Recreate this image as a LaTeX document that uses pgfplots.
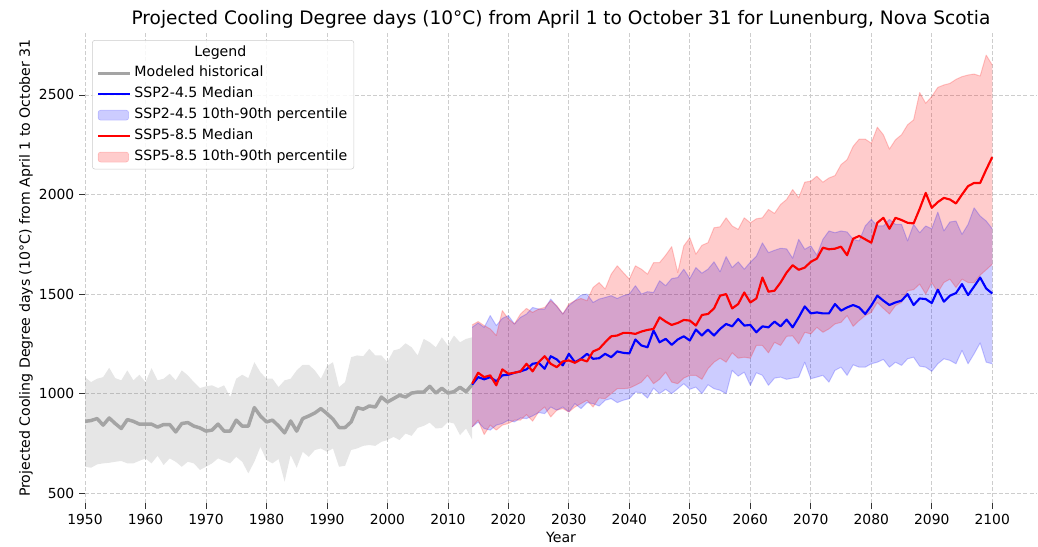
\documentclass[border=0pt]{standalone}
\usepackage{fontspec}
\setmainfont{DejaVu Sans}
\usepackage{pgfplots}
\pgfplotsset{compat=1.18}
\usepackage{pgfplotstable}
\usepgfplotslibrary{fillbetween}

\definecolor{histgray}{RGB}{164,164,164}
\definecolor{gridgray}{RGB}{205,205,205}

\pgfplotstableread{
year med lo hi
1950 861 633 1083
1951 865 628 1058
1952 875 645 1075
1953 842 650 1083
1954 878 653 1130
1955 850 658 1078
1956 825 662 1067
1957 870 650 1117
1958 861 650 1067
1959 847 663 1095
1960 847 675 1058
1961 847 650 1128
1962 832 688 1067
1963 845 642 1075
1964 845 675 1100
1965 808 658 1067
1966 850 633 1117
1967 855 658 1092
1968 837 650 1058
1969 828 617 1028
1970 812 633 1037
1971 817 650 1042
1972 847 675 1028
1973 812 662 1042
1974 812 650 983
1975 867 683 1075
1976 837 658 1095
1977 837 600 1078
1978 930 658 1158
1979 888 733 1108
1980 858 667 1075
1981 867 650 1075
1982 838 672 1033
1983 803 558 1067
1984 863 692 1075
1985 812 628 1117
1986 875 708 1145
1987 888 683 1145
1988 903 717 1117
1989 925 725 1075
1990 900 708 1138
1991 872 725 1158
1992 830 633 1033
1993 830 638 1058
1994 858 717 1183
1995 930 725 1192
1996 922 738 1188
1997 938 742 1225
1998 933 738 1192
1999 983 758 1192
2000 958 767 1158
2001 975 783 1217
2002 992 767 1225
2003 983 800 1253
2004 1003 788 1233
2005 1008 828 1192
2006 1008 838 1275
2007 1037 855 1258
2008 1003 825 1233
2009 1027 828 1283
2010 1003 858 1242
2011 1010 850 1292
2012 1032 792 1258
2013 1010 825 1275
2014 1045 770 1283
}\hist

\pgfplotstableread{
year med lo hi
2014 1045 833 1333
2015 1083 858 1355
2016 1072 825 1333
2017 1083 817 1392
2018 1062 842 1342
2019 1092 850 1378
2020 1095 867 1392
2021 1105 858 1350
2022 1112 878 1383
2023 1122 875 1400
2024 1150 888 1433
2025 1155 905 1425
2026 1125 900 1425
2027 1188 933 1475
2028 1172 917 1438
2029 1142 933 1400
2030 1200 908 1442
2031 1158 950 1467
2032 1175 925 1495
2033 1200 955 1500
2034 1175 950 1458
2035 1178 938 1475
2036 1200 967 1483
2037 1183 975 1492
2038 1212 955 1478
2039 1205 967 1492
2040 1202 975 1500
2041 1272 1008 1542
2042 1242 1005 1500
2043 1233 978 1512
2044 1317 1028 1508
2045 1258 1000 1567
2046 1275 1022 1542
2047 1245 1000 1578
2048 1272 1025 1583
2049 1288 1050 1625
2050 1267 1022 1578
2051 1322 1033 1633
2052 1292 1000 1605
2053 1322 1045 1625
2054 1292 1025 1662
2055 1325 1017 1612
2056 1350 1000 1688
2057 1338 1117 1633
2058 1375 1088 1662
2059 1342 1108 1625
2060 1345 1042 1660
2061 1308 1105 1690
2062 1338 1092 1757
2063 1333 1042 1708
2064 1362 1078 1720
2065 1338 1083 1730
2066 1372 1072 1727
2067 1333 1078 1680
2068 1383 1083 1775
2069 1438 1158 1725
2070 1403 1075 1742
2071 1408 1083 1695
2072 1403 1092 1775
2073 1403 1058 1817
2074 1450 1117 1808
2075 1417 1133 1817
2076 1433 1092 1812
2077 1445 1145 1775
2078 1433 1133 1767
2079 1400 1133 1842
2080 1442 1150 1875
2081 1492 1158 1842
2082 1467 1172 1842
2083 1445 1133 1875
2084 1458 1158 1850
2085 1467 1142 1850
2086 1500 1175 1767
2087 1445 1183 1850
2088 1478 1138 1808
2089 1475 1133 1842
2090 1455 1112 1828
2091 1522 1150 1912
2092 1462 1175 1817
2093 1492 1167 1862
2094 1505 1150 1867
2095 1550 1217 1800
2096 1495 1150 1850
2097 1538 1200 1933
2098 1583 1255 1892
2099 1528 1158 1867
2100 1503 1150 1828
}\ssptwo

\pgfplotstableread{
year med lo hi
2014 1050 833 1345
2015 1105 867 1362
2016 1083 795 1342
2017 1092 842 1325
2018 1042 817 1292
2019 1122 842 1417
2020 1100 850 1375
2021 1105 867 1350
2022 1112 867 1400
2023 1150 895 1428
2024 1112 862 1408
2025 1158 908 1425
2026 1188 933 1433
2027 1150 883 1467
2028 1133 917 1442
2029 1162 925 1400
2030 1167 908 1450
2031 1155 933 1467
2032 1172 950 1478
2033 1162 967 1467
2034 1212 933 1533
2035 1225 978 1558
2036 1258 975 1525
2037 1288 1000 1600
2038 1292 1025 1642
2039 1305 1025 1608
2040 1305 1028 1575
2041 1300 1042 1642
2042 1312 1058 1625
2043 1320 1092 1600
2044 1325 1050 1658
2045 1383 1072 1658
2046 1362 1108 1695
2047 1345 1058 1738
2048 1355 1050 1608
2049 1370 1078 1742
2050 1367 1092 1783
2051 1342 1092 1700
2052 1395 1072 1745
2053 1400 1125 1758
2054 1428 1158 1833
2055 1492 1178 1838
2056 1500 1158 1883
2057 1428 1205 1842
2058 1450 1178 1825
2059 1508 1183 1883
2060 1458 1178 1858
2061 1478 1242 1878
2062 1583 1242 1883
2063 1512 1205 1925
2064 1517 1258 1905
2065 1558 1242 1950
2066 1608 1288 1975
2067 1645 1290 2025
2068 1622 1250 1983
2069 1633 1308 2062
2070 1662 1300 2067
2071 1678 1333 2092
2072 1733 1308 2062
2073 1725 1325 2083
2074 1728 1350 2095
2075 1738 1358 2150
2076 1695 1392 2175
2077 1778 1338 2242
2078 1792 1367 2278
2079 1775 1392 2278
2080 1758 1408 2258
2081 1858 1458 2338
2082 1883 1428 2300
2083 1828 1400 2228
2084 1883 1442 2275
2085 1872 1458 2300
2086 1858 1517 2350
2087 1855 1522 2375
2088 1928 1550 2512
2089 2008 1500 2458
2090 1933 1558 2492
2091 1962 1508 2538
2092 1983 1558 2550
2093 1975 1575 2558
2094 1955 1533 2578
2095 2000 1575 2592
2096 2042 1558 2600
2097 2058 1558 2605
2098 2058 1595 2595
2099 2125 1622 2700
2100 2188 1650 2650
}\sspfive

\pgfplotsset{
  mylineleg/.style={legend image code/.code={\draw[##1] (0pt,0pt) -- (24pt,0pt);}},
  myarealeg/.style={legend image code/.code={\draw[##1] (0pt,-3.75pt) rectangle (23pt,3.75pt);}},
}

\begin{document}
\begin{tikzpicture}
\begin{axis}[
  scale only axis,
  width=714pt, height=352.5pt,
  xmin=1950, xmax=2107.4,
  ymin=451, ymax=2811,
  xtick={1950,1960,...,2100},
  ytick={500,1000,...,2500},
  /pgf/number format/1000 sep={},
  /pgf/number format/assume math mode=true,
  axis line style={draw=none},
  tick align=outside,
  xtick pos=bottom, ytick pos=left,
  major tick length=4.5pt,
  tick style={black!80, line width=0.6pt},
  tick label style={font=\fontsize{10.4}{12}\selectfont},
  xticklabel style={yshift=-0.5pt},
  grid=major,
  major grid style={gridgray, dash pattern=on 3pt off 1.6pt, line width=0.6pt},
  label style={font=\fontsize{10.6}{12}\selectfont},
  xlabel={Year},
  xlabel style={at={(axis description cs:0.5,-0.0735)}, anchor=center},
  ylabel={Projected Cooling Degree days (10°C) from April 1 to October 31},
  ylabel style={at={(axis description cs:-0.062,0.5)}, anchor=center},
  title={Projected Cooling Degree days (10°C) from April 1 to October 31 for Lunenburg, Nova Scotia},
  title style={at={(axis description cs:0.5,1)}, anchor=base, yshift=0pt, font=\fontsize{13.9}{16}\selectfont},
  legend cell align=left,
  legend style={at={(axis description cs:0.0074,0.985)}, anchor=north west,
    font=\fontsize{10.6}{12}\selectfont,
    draw=black!20, fill=white, fill opacity=0.85, text opacity=1,
    rounded corners=2pt, row sep=1.6pt, inner xsep=3pt, inner ysep=2pt,
    nodes={text height=7.8pt, text depth=2.3pt, inner sep=2pt}},
  line join=round,
]
% historical band and median
\addplot[name path=hhi, draw=none, forget plot] table[x=year,y=hi]{\hist};
\addplot[name path=hlo, draw=none, forget plot] table[x=year,y=lo]{\hist};
\addplot[fill=gray, fill opacity=0.2, draw=none, forget plot] fill between[of=hhi and hlo];
\addplot[histgray, line width=2.6pt, forget plot] table[x=year,y=med]{\hist};
% SSP2-4.5 band
\addplot[name path=bhi, blue, draw opacity=0.2, line width=0.75pt, forget plot] table[x=year,y=hi]{\ssptwo};
\addplot[name path=blo, blue, draw opacity=0.2, line width=0.75pt, forget plot] table[x=year,y=lo]{\ssptwo};
\addplot[fill=blue, fill opacity=0.2, draw=none, forget plot] fill between[of=bhi and blo];
% SSP5-8.5 band
\addplot[name path=rhi, red, draw opacity=0.2, line width=0.75pt, forget plot] table[x=year,y=hi]{\sspfive};
\addplot[name path=rlo, red, draw opacity=0.2, line width=0.75pt, forget plot] table[x=year,y=lo]{\sspfive};
\addplot[fill=red, fill opacity=0.2, draw=none, forget plot] fill between[of=rhi and rlo];
% medians
\addplot[blue, line width=1.6pt, forget plot] table[x=year,y=med]{\ssptwo};
\addplot[red, line width=1.6pt, forget plot] table[x=year,y=med]{\sspfive};
% legend
\addlegendimage{empty legend}
\addlegendentry{\hspace*{45pt}Legend}
\addlegendimage{mylineleg, histgray, line width=2.6pt}
\addlegendentry{Modeled historical}
\addlegendimage{mylineleg, blue, line width=1.6pt}
\addlegendentry{SSP2-4.5 Median}
\addlegendimage{myarealeg, fill=blue, fill opacity=0.2, draw=blue, draw opacity=0.2}
\addlegendentry{SSP2-4.5 10th-90th percentile}
\addlegendimage{mylineleg, red, line width=1.6pt}
\addlegendentry{SSP5-8.5 Median}
\addlegendimage{myarealeg, fill=red, fill opacity=0.2, draw=red, draw opacity=0.2}
\addlegendentry{SSP5-8.5 10th-90th percentile}
\end{axis}
\path (current axis.south west) ++(-63.75pt,-32.25pt) coordinate (bbsw);
\path (current axis.north east) ++(0.75pt,24.75pt) coordinate (bbne);
\pgfresetboundingbox
\useasboundingbox (bbsw) rectangle (bbne);
\end{tikzpicture}
\end{document}
